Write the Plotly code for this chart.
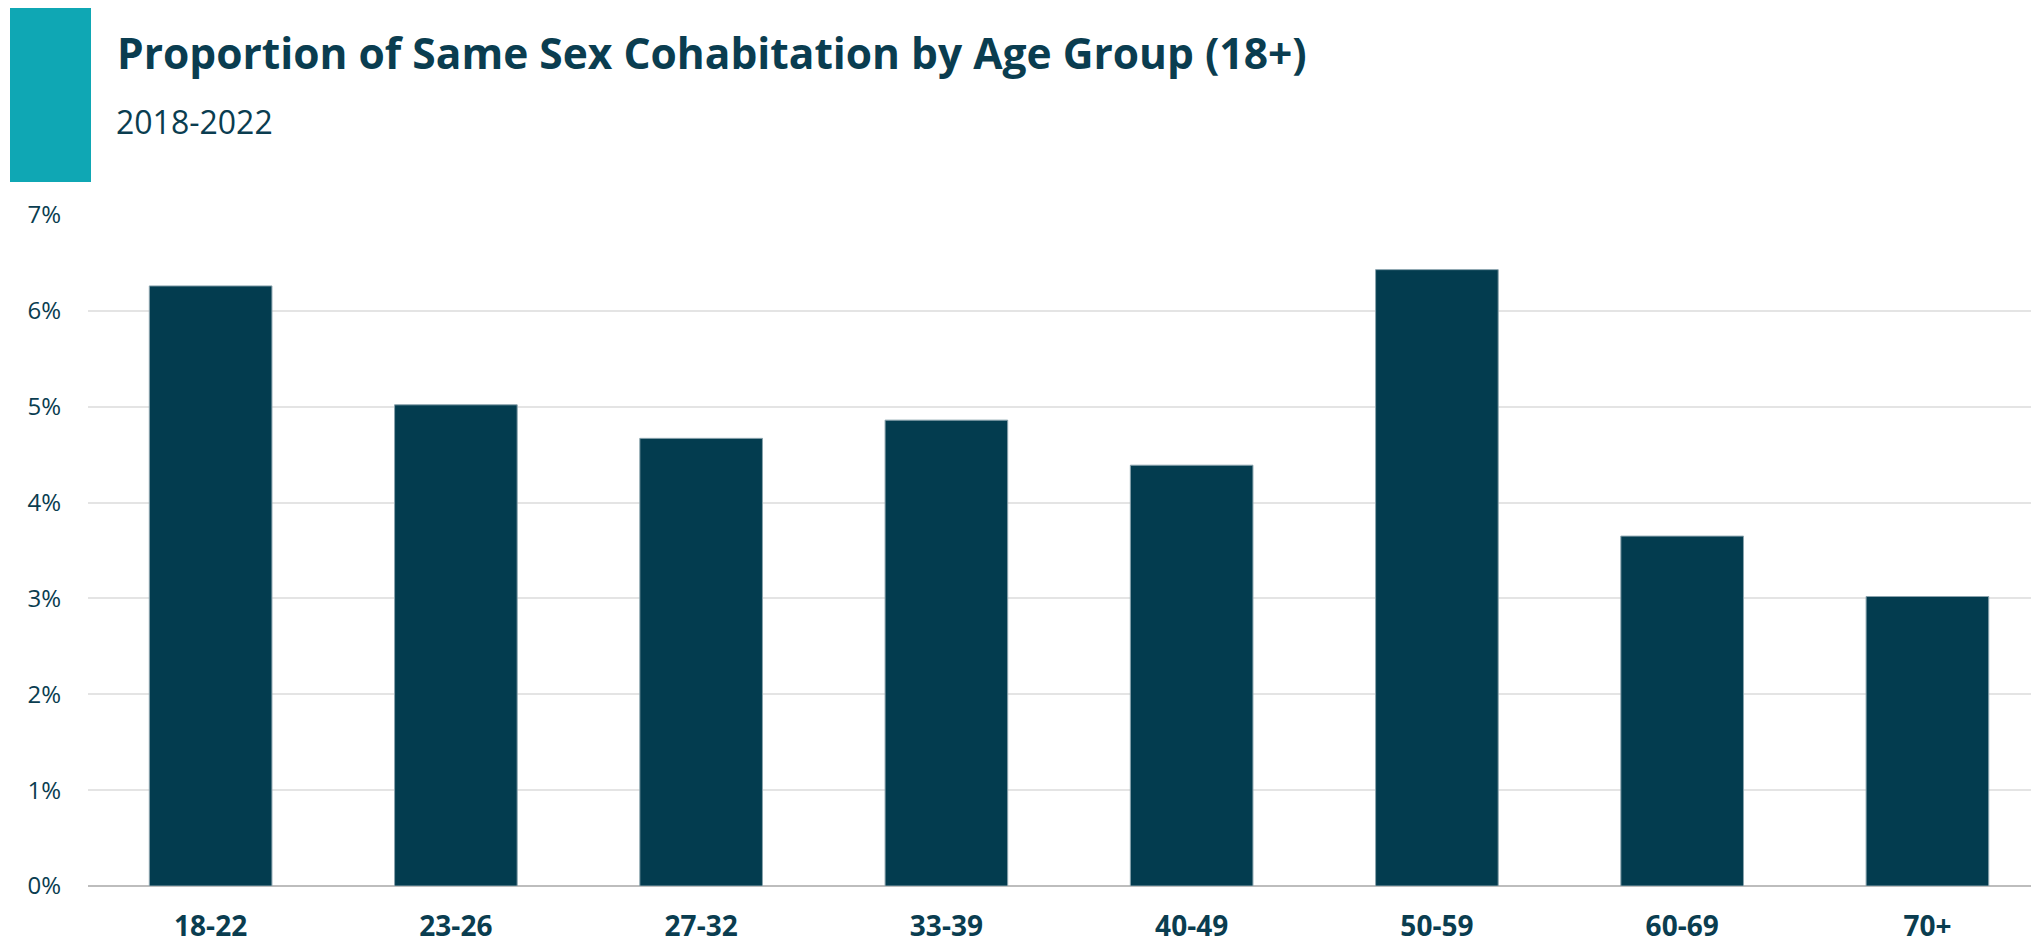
import plotly.graph_objects as go

categories = ["18-22", "23-26", "27-32", "33-39", "40-49", "50-59", "60-69", "70+"]
values = [6.26, 5.02, 4.67, 4.86, 4.39, 6.43, 3.65, 3.02]
y_ticks = [0, 1, 2, 3, 4, 5, 6, 7]
y_tick_labels = ["0%", "1%", "2%", "3%", "4%", "5%", "6%", "7%"]
title_text = "Proportion of Same Sex Cohabitation by Age Group (18+)"
subtitle_text = "2018-2022"

# page body has an 8px margin; all page coordinates below are shifted by it
OFF = 8
W, H = 2039 - OFF, 940 - OFF
ML, MR, MT, MB = 88 - OFF, 0, 215 - OFF, 54
PW = W - ML - MR
PH = H - MT - MB

def px(x):
    return (x - OFF - ML) / PW

def py(y):
    return 1 - (y - OFF - MT) / PH

DARK = "#033c4f"
TEXT = "#0a3d50"
TEAL = "#0fa7b4"

fig = go.Figure()
fig.add_trace(go.Bar(
    x=list(range(len(categories))),
    y=values,
    width=0.5,
    marker=dict(color=DARK, line=dict(color="#8aa3ad", width=1)),
    hoverinfo="skip",
))

fig.add_shape(type="rect", xref="paper", yref="paper",
              x0=px(10), x1=px(91), y0=py(182), y1=py(7),
              fillcolor=TEAL, line=dict(width=0), layer="above")

fig.add_annotation(text="<b>" + title_text + "</b>", xref="paper", yref="paper",
                   x=px(115), y=py(53), xanchor="left", yanchor="middle",
                   showarrow=False,
                   font=dict(family="Open Sans", size=42.5, color=TEXT))
fig.add_annotation(text=subtitle_text, xref="paper", yref="paper",
                   x=px(114), y=py(121), xanchor="left", yanchor="middle",
                   showarrow=False,
                   font=dict(family="Open Sans", size=32, color=TEXT))

fig.update_layout(
    width=W, height=H,
    margin=dict(l=ML, r=MR, t=MT, b=MB, autoexpand=False),
    paper_bgcolor="white", plot_bgcolor="white",
    showlegend=False,
    bargap=0.5,
    font=dict(family="Open Sans", color=TEXT),
)
fig.update_xaxes(
    range=[-0.5, 7.455],
    tickmode="array", tickvals=list(range(len(categories))), ticktext=categories,
    tickfont=dict(family="Open Sans", size=28, color=TEXT, weight="bold"),
    showgrid=False, showline=False, zeroline=False,
    ticks="", ticklabelstandoff=21,
)
fig.update_yaxes(
    range=[0, 7],
    tickmode="array", tickvals=y_ticks, ticktext=y_tick_labels,
    tickfont=dict(family="Open Sans", size=24, color=TEXT),
    showgrid=True, gridcolor="#e4e4e4", gridwidth=2,
    zeroline=True, zerolinecolor="#bdbdbd", zerolinewidth=2,
    showline=False, ticks="", ticklabelstandoff=26,
)

fig.write_html("out.html")
